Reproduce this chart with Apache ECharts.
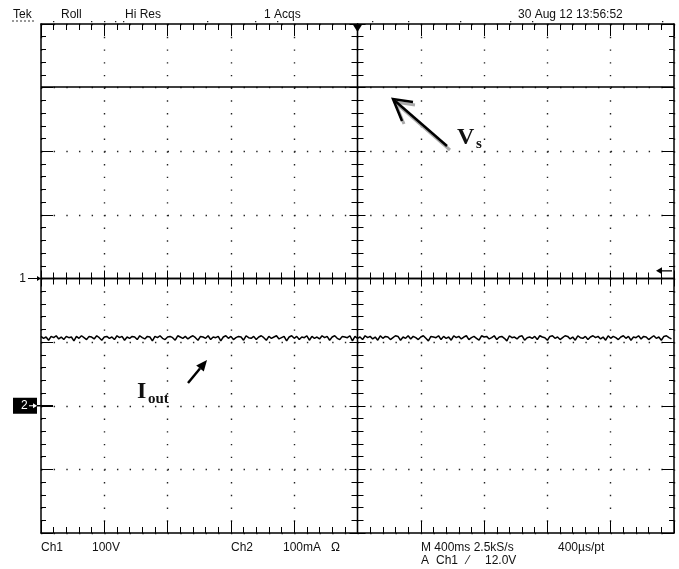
<!DOCTYPE html>
<html><head><meta charset="utf-8">
<script src="https://cdn.jsdelivr.net/npm/echarts@6/dist/echarts.min.js"></script>
<style>html,body{margin:0;padding:0;background:#fff}#c{width:679px;height:569px}</style>
</head><body><div id="c"></div>
<script>
// ---- scope settings ----
const divsX = 10;
const divsY = 8;
const timePerDivMs = 400;
const ch1VoltsPerDiv = 100;
const ch2mAPerDiv = 100;
const ch2OffsetDiv = -2;
const triggerLevelV = 12.0;
const sampleMs = 16;

// ---- top / bottom readout texts ----
const topLabels = ['Tek', 'Roll', 'Hi Res', '1 Acqs', '30 Aug 12 13:56:52'];
const bottomLabels1 = ['Ch1', '100V', 'Ch2', '100mA', 'Ω', 'M 400ms 2.5kS/s', '400µs/pt'];
const bottomLabels2 = ['A', 'Ch1', '⁄', '12.0V'];

// ---- traces ----
const vsValues = [301, 301, 301, 301, 301, 301, 301, 301, 301, 301, 301];
const ioutValues = [
109,106,108,103,109,107,110,105,108,104,109,107,108,102,109,106,110,107,104,109,
108,105,110,107,103,108,109,106,108,104,110,107,109,103,108,106,109,108,104,110,
107,105,109,108,102,109,107,110,106,104,108,109,107,103,110,108,106,109,105,108,
110,107,103,109,108,106,110,104,108,107,109,102,108,110,106,109,104,107,109,108,
103,110,107,106,109,104,108,110,107,103,109,106,108,110,105,107,109,102,108,110,
106,109,104,108,107,110,103,109,106,108,105,110,107,109,103,108,110,106,104,109,
108,107,110,102,109,106,108,104,110,107,109,105,108,103,110,106,109,108,104,107,
110,109,103,108,106,110,105,109,107,104,108,110,106,102,109,108,107,110,104,109,
106,108,103,110,107,109,105,108,110,104,107,109,106,103,110,108,109,105,107,110,
104,108,109,106,102,110,107,108,105,109,110,103,107,108,106,109,104,110,108,107,
103,109,110,106,108,104,107,110,109,105,108,103,110,107,106,109,104,108,110,107,
109,105,108,103,110,106,109,107,104,108,110,106,109,103,108,107,110,105,109,108,
104,107,110,106,108,103,109,110,107,105
];

const totalMs = divsX * timePerDivMs;
const vsTimes = vsValues.map((v, i) => i * timePerDivMs);
const ioutTimes = ioutValues.map((v, i) => i * sampleMs);

const chart = echarts.init(document.getElementById('c'), null, {renderer: 'canvas'});
const FONT = '12px "Liberation Sans", Arial, sans-serif';
const INK = '#111';

const hx = divsX / 2, hy = divsY / 2;
const dotStyle = (len) => ({color: '#222', width: 1.4, type: [1.4, len]});
const borderLine = {show: true, onZero: false, lineStyle: {color: '#000', width: 1.5}};
const centerLine = {show: true, onZero: true, onZeroAxisIndex: 0, lineStyle: {color: '#000', width: 1.3}};
const noLabel = {show: false};

function divAxis(extra) {
  return Object.assign({
    type: 'value', interval: 1, axisLabel: noLabel, splitLine: {show: false},
    axisTick: {show: true, inside: true, length: 12, lineStyle: {color: '#000', width: 1}},
    minorTick: {show: true, splitNumber: 5, length: 6, lineStyle: {color: '#000', width: 1}}
  }, extra);
}

const gridW = 633, gridH = 509;
const option = {
  animation: false,
  backgroundColor: '#fff',
  grid: {left: 41, top: 24, width: gridW, height: gridH, outerBoundsMode: 'none', containLabel: false},
  xAxis: [
    divAxis({min: -hx, max: hx, position: 'bottom', axisLine: borderLine,
      splitLine: {show: true, lineStyle: dotStyle(gridH / divsY / 5 - 1.4)}}),
    divAxis({min: -hx, max: hx, position: 'top', axisLine: borderLine}),
    divAxis({min: -hx, max: hx, position: 'bottom', axisLine: centerLine,
      axisTick: {show: true, inside: true, length: 8, lineStyle: {color: '#000'}},
      minorTick: {show: true, splitNumber: 5, length: 6, lineStyle: {color: '#000'}}}),
    divAxis({min: -hx, max: hx, position: 'bottom', axisLine: centerLine,
      axisTick: {show: true, inside: false, length: 8, lineStyle: {color: '#000'}},
      minorTick: {show: true, splitNumber: 5, length: 6, lineStyle: {color: '#000'}}}),
    {type: 'value', min: 0, max: totalMs, show: false}
  ],
  yAxis: [
    divAxis({min: -hy, max: hy, position: 'left', axisLine: borderLine,
      axisTick: {show: true, inside: true, length: 12, lineStyle: {color: '#000'}},
      minorTick: {show: true, splitNumber: 5, length: 5, lineStyle: {color: '#000'}},
      splitLine: {show: true, lineStyle: dotStyle(gridW / divsX / 5 - 1.4)}}),
    divAxis({min: -hy, max: hy, position: 'right', axisLine: borderLine,
      axisTick: {show: true, inside: true, length: 12, lineStyle: {color: '#000'}},
      minorTick: {show: true, splitNumber: 5, length: 5, lineStyle: {color: '#000'}}}),
    divAxis({min: -hy, max: hy, position: 'left', axisLine: centerLine,
      axisTick: {show: true, inside: true, length: 8, lineStyle: {color: '#000'}},
      minorTick: {show: true, splitNumber: 5, length: 6, lineStyle: {color: '#000'}}}),
    divAxis({min: -hy, max: hy, position: 'left', axisLine: centerLine,
      axisTick: {show: true, inside: false, length: 8, lineStyle: {color: '#000'}},
      minorTick: {show: true, splitNumber: 5, length: 6, lineStyle: {color: '#000'}}}),
    {type: 'value', min: -hy * ch1VoltsPerDiv, max: hy * ch1VoltsPerDiv, show: false},
    {type: 'value', min: (-hy - ch2OffsetDiv) * ch2mAPerDiv, max: (hy - ch2OffsetDiv) * ch2mAPerDiv, show: false}
  ],
  series: [
    {name: 'Vs', type: 'line', xAxisIndex: 4, yAxisIndex: 4, showSymbol: false, symbol: 'none',
     data: vsTimes.map((t, i) => [t, vsValues[i]]), lineStyle: {color: '#000', width: 1.5}, z: 5},
    {name: 'Iout', type: 'line', xAxisIndex: 4, yAxisIndex: 5, showSymbol: false, symbol: 'none',
     data: ioutTimes.map((t, i) => [t, ioutValues[i]]), lineStyle: {color: '#000', width: 1.5}, z: 5}
  ]
};
chart.setOption(option);

// positions from the library's scales
const tl = chart.convertToPixel({xAxisIndex: 0, yAxisIndex: 0}, [-hx, hy]);
const br = chart.convertToPixel({xAxisIndex: 0, yAxisIndex: 0}, [hx, -hy]);
const ctr = chart.convertToPixel({xAxisIndex: 0, yAxisIndex: 0}, [0, 0]);
const ch1G = chart.convertToPixel({seriesIndex: 0}, [0, 0]);
const ch2G = chart.convertToPixel({seriesIndex: 1}, [0, 0]);
const trig = chart.convertToPixel({seriesIndex: 0}, [0, triggerLevelV]);

const gx = tl[0], gy = tl[1], gr = br[0], gb = br[1];
const g = [];
function txt(s, x, y, font, fill, align) {
  g.push({type: 'text', x: x, y: y, z: 100, silent: true,
    style: {text: s, font: font || FONT, fill: fill || INK, verticalAlign: 'middle', align: align || 'left'}});
}
function line(x1, y1, x2, y2, w, c, dash) {
  g.push({type: 'line', z: 99, silent: true, shape: {x1: x1, y1: y1, x2: x2, y2: y2},
    style: {stroke: c || '#000', lineWidth: w || 1, lineDash: dash || null}});
}
function poly(pts, c) {
  g.push({type: 'polygon', z: 99, silent: true, shape: {points: pts}, style: {fill: c || '#000'}});
}

// top readout
const topY = gy - 9;
txt(topLabels[0], 13, topY);
line(12, topY + 6, 36, topY + 6, 1, '#333', [2, 2]);
txt(topLabels[1], 61, topY);
txt(topLabels[2], 125, topY);
txt(topLabels[3], 264, topY);
txt(topLabels[4], 518, topY);
// status dots on top
[53, 91, 104, 115, 123, 207, 255, 277, 372, 408, 460, 510, 532, 662].forEach(x => {
  g.push({type: 'rect', z: 99, silent: true, shape: {x: x, y: gy - 3, width: 1.3, height: 1.3}, style: {fill: '#222'}});
});

// bottom readout
const b1 = gb + 15, b2 = gb + 28;
txt(bottomLabels1[0], 41, b1);
txt(bottomLabels1[1], 92, b1);
txt(bottomLabels1[2], 231, b1);
txt(bottomLabels1[3], 283, b1);
txt(bottomLabels1[4], 331, b1);
txt(bottomLabels1[5], 421, b1);
txt(bottomLabels1[6], 558, b1);
txt(bottomLabels2[0], 421, b2);
txt(bottomLabels2[1], 436, b2);
txt(bottomLabels2[2], 467, b2);
txt(bottomLabels2[3], 485, b2);

// trigger position marker (top centre)
poly([[ctr[0] - 5, gy], [ctr[0] + 5, gy], [ctr[0], gy + 8]]);

// Ch1 ground marker
txt('1', gx - 15, ch1G[1], FONT, INK, 'right');
line(gx - 13, ch1G[1], gx - 3, ch1G[1], 1);
poly([[gx - 4, ch1G[1] - 2.5], [gx, ch1G[1]], [gx - 4, ch1G[1] + 2.5]]);

// Ch2 ground marker
g.push({type: 'rect', z: 98, silent: true, shape: {x: 13, y: ch2G[1] - 8, width: 24, height: 16}, style: {fill: '#000'}});
txt('2', 21, ch2G[1], FONT, '#fff');
line(29, ch2G[1], 36, ch2G[1], 1, '#fff');
poly([[33, ch2G[1] - 2.5], [37, ch2G[1]], [33, ch2G[1] + 2.5]], '#fff');
line(37, ch2G[1], gx + 12, ch2G[1], 1.5);

// trigger level marker (right)
line(gr - 13, trig[1], gr - 2, trig[1], 1.3);
poly([[gr - 18, trig[1]], [gr - 12, trig[1] - 3.5], [gr - 12, trig[1] + 3.5]]);

// Vs annotation
const SERIF = '"Liberation Serif", "Times New Roman", serif';
g.push({type: 'polyline', z: 97, silent: true, shape: {points: [[415, 105], [395, 102], [404, 124]]}, style: {stroke: '#aaa', lineWidth: 3, fill: null}});
line(397, 104, 450, 150, 3, '#aaa');
line(394, 100, 447, 146, 2.5, '#000');
g.push({type: 'polyline', z: 99, silent: true, shape: {points: [[413, 102], [393, 99], [402, 121]]}, style: {stroke: '#000', lineWidth: 2.5, fill: null}});
txt('V', 457, 138, 'bold 24px ' + SERIF);
txt('s', 476, 144, 'bold 15px ' + SERIF);

// Iout annotation
line(188, 383, 200, 368.5, 2.5);
poly([[207, 360], [203.8, 371.6], [196.2, 365.4]]);
txt('I', 137, 392, 'bold 24px ' + SERIF);
txt('out', 148, 399, 'bold 15px ' + SERIF);

chart.setOption({graphic: g});
</script></body></html>
